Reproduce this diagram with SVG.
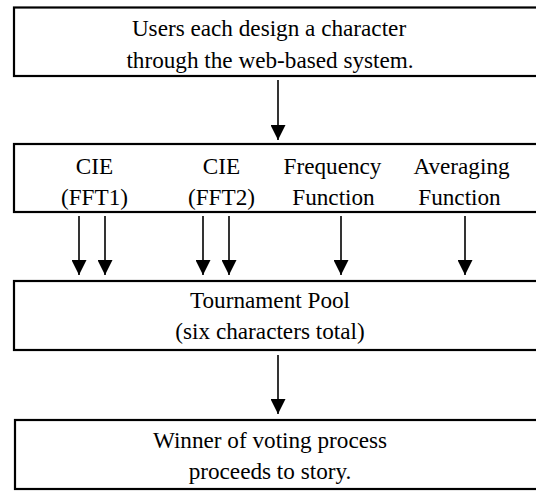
<svg xmlns="http://www.w3.org/2000/svg" width="536" height="491" viewBox="0 0 536 491">
<defs>
<marker id="ah" markerWidth="15" markerHeight="15" viewBox="0 0 15 15" refX="15" refY="7.5" orient="auto" markerUnits="userSpaceOnUse">
<path d="M0,0 L15,7.5 L0,15 Z" fill="#000"/>
</marker>
</defs>
<rect width="536" height="491" fill="#fff"/>
<g font-family="Liberation Serif, Times New Roman, serif" font-size="23.2" fill="#000" text-anchor="middle">
<g id="n1">
<rect fill="#fff" stroke="#000" stroke-width="2.2" x="14" y="7.5" width="540" height="68.5"/>
<text x="269" y="36">Users each design a character</text>
<text x="270" y="68">through the web-based system.</text>
</g>
<g id="n2">
<rect fill="#fff" stroke="#000" stroke-width="2.2" x="14" y="144" width="540" height="68"/>
<text x="94.5" y="174">CIE</text>
<text x="94.5" y="205">(FFT1)</text>
<text x="221.5" y="174">CIE</text>
<text x="221.5" y="205">(FFT2)</text>
<text x="332.5" y="174">Frequency</text>
<text x="333.5" y="205">Function</text>
<text x="461.5" y="174">Averaging</text>
<text x="459.5" y="205">Function</text>
</g>
<g id="n3">
<rect fill="#fff" stroke="#000" stroke-width="2.2" x="14" y="281" width="540" height="69"/>
<text x="270" y="308">Tournament Pool</text>
<text x="270" y="339">(six characters total)</text>
</g>
<g id="n4">
<rect fill="#fff" stroke="#000" stroke-width="2.2" x="15" y="420" width="540" height="69"/>
<text x="270" y="448">Winner of voting process</text>
<text x="270" y="479">proceeds to story.</text>
</g>
</g>
<g id="connectors" stroke="#000" stroke-width="1.6" fill="none">
<line x1="278" y1="80" x2="278" y2="140" marker-end="url(#ah)"/>
<line x1="79" y1="216" x2="79" y2="275" marker-end="url(#ah)"/>
<line x1="105" y1="216" x2="105" y2="275" marker-end="url(#ah)"/>
<line x1="203" y1="216" x2="203" y2="275" marker-end="url(#ah)"/>
<line x1="229" y1="216" x2="229" y2="275" marker-end="url(#ah)"/>
<line x1="341" y1="216" x2="341" y2="275" marker-end="url(#ah)"/>
<line x1="465" y1="216" x2="465" y2="275" marker-end="url(#ah)"/>
<line x1="278" y1="355" x2="278" y2="414" marker-end="url(#ah)"/>
</g>
</svg>
